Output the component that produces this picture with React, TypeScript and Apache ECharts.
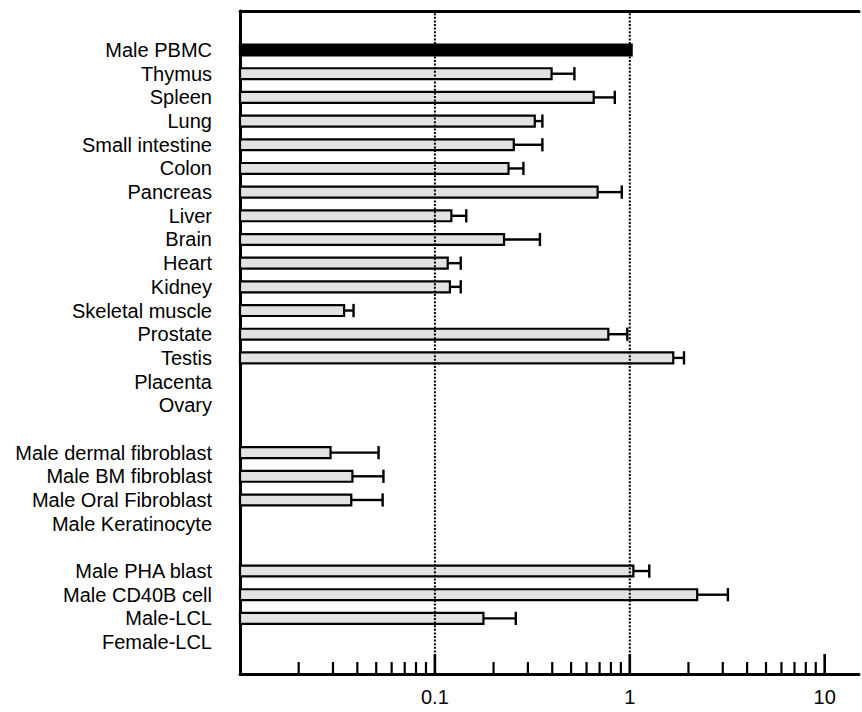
import React, { useEffect, useRef } from 'react';
import * as echarts from 'echarts';

const categories = [
  'Male PBMC', 'Thymus', 'Spleen', 'Lung', 'Small intestine', 'Colon', 'Pancreas',
  'Liver', 'Brain', 'Heart', 'Kidney', 'Skeletal muscle', 'Prostate', 'Testis',
  'Placenta', 'Ovary', '',
  'Male dermal fibroblast', 'Male BM fibroblast', 'Male Oral Fibroblast', 'Male Keratinocyte', ' ',
  'Male PHA blast', 'Male CD40B cell', 'Male-LCL', 'Female-LCL',
];

const means: (number | null)[] = [
  1.0, 0.39, 0.64, 0.32, 0.25, 0.235, 0.67,
  0.12, 0.223, 0.115, 0.118, 0.034, 0.76, 1.63,
  null, null, null,
  0.029, 0.0375, 0.037, null, null,
  1.02, 2.16, 0.175, null,
];

const upperErr: (number | null)[] = [
  null, 0.51, 0.82, 0.35, 0.35, 0.28, 0.89,
  0.143, 0.34, 0.134, 0.134, 0.038, 0.95, 1.85,
  null, null, null,
  0.051, 0.054, 0.0535, null, null,
  1.23, 3.1, 0.256, null,
];

const majorTicks = [0.1, 1, 10];
const minorTicks = [
  0.02, 0.03, 0.04, 0.05, 0.06, 0.07, 0.08, 0.09,
  0.2, 0.3, 0.4, 0.5, 0.6, 0.7, 0.8, 0.9,
  2, 3, 4, 5, 6, 7, 8, 9,
];
const gridLineValues = [0.1, 1];
const tickLabels = ['0.1', '1', '10'];
const axisMin = 0.01;
const axisMax = 15;
const controlCategory = 'Male PBMC';

const FONT = '"Liberation Sans", Arial, Helvetica, sans-serif';

export default function App() {
  const ref = useRef<HTMLDivElement>(null);

  useEffect(() => {
    const chart = echarts.init(ref.current!, null, { renderer: 'svg' });

    const barData: any[] = [];
    categories.forEach((c, i) => {
      const m = means[i];
      if (m == null) return;
      const u = upperErr[i];
      barData.push([m, i, u == null ? NaN : u]);
    });

    const tickData = [
      ...majorTicks.map((v) => [v, 0, 1]),
      ...minorTicks.map((v) => [v, 0, 0]),
    ];

    const left = 240;
    const right = -2;

    const option: any = {
      animation: false,
      backgroundColor: '#ffffff',
      textStyle: { fontFamily: FONT },
      grid: [
        { left, right, top: 11, height: 663 },
        { left, right, top: 38.2, height: 615.7 },
      ],
      xAxis: [
        {
          gridIndex: 0,
          type: 'log',
          logBase: 10,
          min: axisMin,
          max: axisMax,
          position: 'bottom',
          axisLine: { show: true, onZero: false, lineStyle: { color: '#000', width: 3 } },
          axisTick: { show: false },
          splitLine: { show: false },
          axisLabel: {
            show: true,
            color: '#000',
            fontSize: 20,
            fontFamily: FONT,
            margin: 13,
            formatter: (v: number) => {
              const idx = majorTicks.findIndex((t) => Math.abs(v - t) / t < 1e-6);
              return idx >= 0 ? tickLabels[idx] : '';
            },
          },
        },
        {
          gridIndex: 0,
          type: 'log',
          logBase: 10,
          min: axisMin,
          max: axisMax,
          position: 'top',
          axisLine: { show: true, onZero: false, lineStyle: { color: '#000', width: 3 } },
          axisTick: { show: false },
          axisLabel: { show: false },
          splitLine: { show: false },
        },
        {
          gridIndex: 1,
          type: 'log',
          logBase: 10,
          min: axisMin,
          max: axisMax,
          show: false,
        },
      ],
      yAxis: [
        {
          gridIndex: 0,
          type: 'value',
          min: 0,
          max: 1,
          axisLine: { show: true, onZero: false, lineStyle: { color: '#000', width: 3 } },
          axisTick: { show: false },
          axisLabel: { show: false },
          splitLine: { show: false },
        },
        {
          gridIndex: 1,
          type: 'category',
          data: categories,
          inverse: true,
          axisLine: { show: false },
          axisTick: { show: false },
          splitLine: { show: false },
          axisLabel: {
            interval: 0,
            color: '#000',
            fontSize: 20,
            fontFamily: FONT,
            margin: 28,
          },
        },
      ],
      series: [
        {
          type: 'custom',
          name: 'bars',
          xAxisIndex: 2,
          yAxisIndex: 1,
          z: 3,
          clip: false,
          encode: { x: 0, y: 1 },
          data: barData,
          renderItem: (params: any, api: any) => {
            const v = api.value(0);
            const ci = api.value(1);
            const up = api.value(2);
            const start = api.coord([axisMin, ci]);
            const end = api.coord([v, ci]);
            const band = api.size([0, 1])[1];
            const h = band * 0.46;
            const y = end[1];
            const isControl = categories[ci] === controlCategory;
            const children: any[] = [
              {
                type: 'rect',
                shape: { x: start[0], y: y - h / 2, width: end[0] - start[0], height: h },
                style: {
                  fill: isControl ? '#000' : '#e2e2e2',
                  stroke: '#000',
                  lineWidth: 2.2,
                },
              },
            ];
            if (isFinite(up)) {
              const ux = api.coord([up, ci])[0];
              const capH = band * 0.56;
              children.push({
                type: 'line',
                shape: { x1: end[0], y1: y, x2: ux, y2: y },
                style: { stroke: '#000', lineWidth: 2.4 },
              });
              children.push({
                type: 'line',
                shape: { x1: ux, y1: y - capH / 2, x2: ux, y2: y + capH / 2 },
                style: { stroke: '#000', lineWidth: 2.4 },
              });
            }
            return { type: 'group', children };
          },
        },
        {
          type: 'custom',
          name: 'gridlines',
          xAxisIndex: 0,
          yAxisIndex: 0,
          z: 5,
          silent: true,
          encode: { x: 0, y: 1 },
          data: gridLineValues.map((v) => [v, 0]),
          renderItem: (params: any, api: any) => {
            const v = api.value(0);
            const p0 = api.coord([v, 0]);
            const p1 = api.coord([v, 1]);
            return {
              type: 'line',
              shape: { x1: p0[0], y1: p0[1], x2: p1[0], y2: p1[1] },
              style: { stroke: '#000', lineWidth: 2, lineDash: [2, 1.6] },
            };
          },
        },
        {
          type: 'custom',
          name: 'ticks',
          xAxisIndex: 0,
          yAxisIndex: 0,
          z: 6,
          silent: true,
          encode: { x: 0, y: 1 },
          data: tickData,
          renderItem: (params: any, api: any) => {
            const v = api.value(0);
            const major = api.value(2) === 1;
            const p = api.coord([v, 0]);
            const len = major ? 20 : 12;
            return {
              type: 'line',
              shape: { x1: p[0], y1: p[1], x2: p[0], y2: p[1] - len },
              style: { stroke: '#000', lineWidth: major ? 2.6 : 2.2 },
            };
          },
        },
      ],
    };

    chart.setOption(option);
    return () => {
      chart.dispose();
    };
  }, []);

  return (
    <div
      ref={ref}
      style={{ position: 'absolute', left: 0, top: 0, width: 862, height: 712, background: '#fff' }}
    />
  );
}
